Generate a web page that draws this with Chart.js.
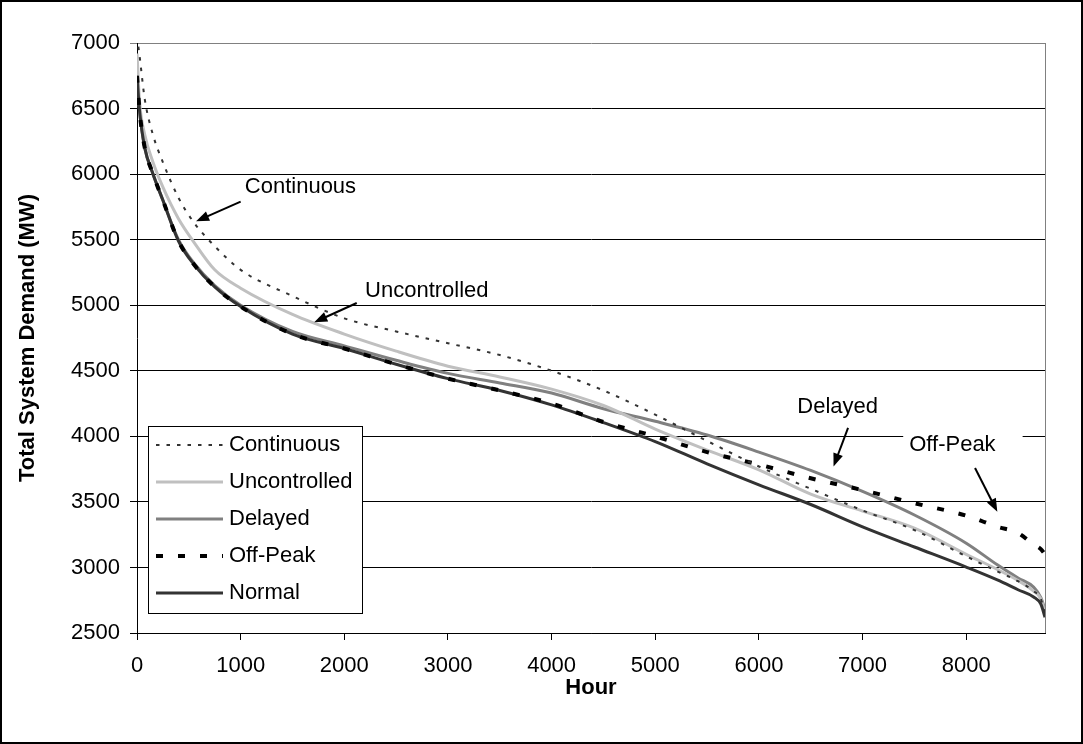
<!DOCTYPE html>
<html>
<head>
<meta charset="utf-8">
<script src="https://cdn.jsdelivr.net/npm/chart.js@4.4.1/dist/chart.umd.min.js"></script>
<style>
  html, body { margin: 0; padding: 0; background: #fff; }
  canvas { display: block; }
</style>
</head>
<body>
<canvas id="demandChart" width="1083" height="744"></canvas>
<script>
// hour of year (sorted load duration), MW values
const hours        = [0, 25, 75, 150, 250, 400, 550, 750, 1000, 1500, 2000, 2500, 3000, 3500, 4000, 4500, 5000, 5500, 6000, 6500, 7000, 7500, 8000, 8300, 8500, 8650, 8720, 8760];
const continuous   = [7050, 6900, 6570, 6310, 6090, 5820, 5630, 5450, 5270, 5070, 4900, 4800, 4710, 4620, 4500, 4350, 4165, 3965, 3770, 3600, 3435, 3285, 3085, 2970, 2895, 2820, 2760, 2650];
const uncontrolled = [6920, 6550, 6300, 6100, 5900, 5660, 5480, 5270, 5130, 4930, 4780, 4650, 4535, 4453, 4360, 4235, 4055, 3895, 3745, 3560, 3430, 3300, 3100, 2985, 2900, 2820, 2760, 2650];
const delayed      = [6750, 6480, 6200, 6010, 5800, 5500, 5320, 5150, 5000, 4800, 4690, 4580, 4480, 4407, 4330, 4210, 4115, 4010, 3880, 3740, 3580, 3400, 3185, 3020, 2920, 2850, 2770, 2680];
const offPeak      = [6750, 6480, 6200, 6010, 5800, 5490, 5310, 5140, 4990, 4780, 4670, 4550, 4440, 4350, 4250, 4110, 4000, 3880, 3785, 3680, 3590, 3490, 3395, 3310, 3263, 3175, 3140, 3100];
const normal       = [6750, 6480, 6200, 6010, 5800, 5490, 5310, 5140, 4990, 4780, 4670, 4550, 4440, 4350, 4240, 4105, 3960, 3790, 3630, 3480, 3310, 3156, 3003, 2905, 2830, 2775, 2720, 2620];

const xTicks = [0, 1000, 2000, 3000, 4000, 5000, 6000, 7000, 8000];

const FONT = "'Liberation Sans', Arial, sans-serif";

function pts(vals) {
  return hours.map((h, i) => ({ x: h, y: vals[i] }));
}

// call-out labels with arrows, placed in data units
const callouts = [
  { text: "Continuous",   at: [1040, 5900], from: [1000, 5790], to: [570, 5640] },
  { text: "Uncontrolled", at: [2200, 5108], from: [2120, 5017], to: [1710, 4870] },
  { text: "Delayed",      at: [6370, 4224], from: [6860, 4064], to: [6720, 3770] },
  { text: "Off-Peak",     at: [7450, 3934], from: [8085, 3758], to: [8300, 3425], box: true }
];

function arrow(ctx, x1, y1, x2, y2) {
  const a = Math.atan2(y2 - y1, x2 - x1);
  const len = 13, half = 5;
  ctx.beginPath();
  ctx.moveTo(x1, y1);
  ctx.lineTo(x2 - Math.cos(a) * len * 0.8, y2 - Math.sin(a) * len * 0.8);
  ctx.stroke();
  ctx.beginPath();
  ctx.moveTo(x2, y2);
  ctx.lineTo(x2 - Math.cos(a) * len + Math.sin(a) * half, y2 - Math.sin(a) * len - Math.cos(a) * half);
  ctx.lineTo(x2 - Math.cos(a) * len - Math.sin(a) * half, y2 - Math.sin(a) * len + Math.cos(a) * half);
  ctx.closePath();
  ctx.fill();
}

const extras = {
  id: "extras",
  afterDraw(chart) {
    const { ctx, chartArea: ca, scales: { x, y } } = chart;
    ctx.save();

    // gray right edge of plot
    ctx.strokeStyle = "#808080";
    ctx.lineWidth = 1;
    ctx.beginPath();
    ctx.moveTo(Math.round(ca.right) + 0.5, ca.top);
    ctx.lineTo(Math.round(ca.right) + 0.5, ca.bottom);
    ctx.stroke();

    // call-outs
    ctx.font = "22px " + FONT;
    ctx.textBaseline = "middle";
    ctx.textAlign = "left";
    callouts.forEach(c => {
      const tx = x.getPixelForValue(c.at[0]), ty = y.getPixelForValue(c.at[1]);
      if (c.box) {
        const w = ctx.measureText(c.text).width;
        ctx.fillStyle = "#fff";
        ctx.fillRect(tx - 6, ty - 16, w + 33, 32);
      }
      ctx.fillStyle = "#000";
      ctx.fillText(c.text, tx, ty);
      ctx.strokeStyle = "#000";
      ctx.lineWidth = 2;
      arrow(ctx, x.getPixelForValue(c.from[0]), y.getPixelForValue(c.from[1]),
                 x.getPixelForValue(c.to[0]), y.getPixelForValue(c.to[1]));
    });

    // legend box inside plot
    const lx = ca.left + 11, ly = ca.top + 383, lw = 214, lh = 187;
    ctx.fillStyle = "#fff";
    ctx.fillRect(lx, ly, lw, lh);
    ctx.strokeStyle = "#000";
    ctx.lineWidth = 1;
    ctx.strokeRect(lx + 0.5, ly + 0.5, lw, lh);
    chart.data.datasets.forEach((ds, i) => {
      const ry = ly + 19 + i * 37;
      ctx.save();
      ctx.strokeStyle = ds.borderColor;
      ctx.lineWidth = ds.borderWidth;
      ctx.setLineDash(ds.borderDash || []);
      ctx.beginPath();
      ctx.moveTo(lx + 8, ry);
      ctx.lineTo(lx + 75, ry);
      ctx.stroke();
      ctx.restore();
      ctx.fillStyle = "#000";
      ctx.font = "22px " + FONT;
      ctx.fillText(ds.label, lx + 81, ry);
    });

    // outer frame
    ctx.strokeStyle = "#000";
    ctx.lineWidth = 2;
    ctx.setLineDash([]);
    ctx.strokeRect(1, 1, chart.width - 2, chart.height - 2);
    ctx.restore();
  }
};

new Chart(document.getElementById("demandChart"), {
  type: "line",
  data: {
    datasets: [
      { label: "Continuous", data: pts(continuous), borderColor: "#333333", borderWidth: 2, borderDash: [3.5, 7], order: 0 },
      { label: "Uncontrolled", data: pts(uncontrolled), borderColor: "#c0c0c0", borderWidth: 3, order: 3 },
      { label: "Delayed", data: pts(delayed), borderColor: "#808080", borderWidth: 3, order: 4 },
      { label: "Off-Peak", data: pts(offPeak), borderColor: "#000000", borderWidth: 4, borderDash: [7, 15], order: 1 },
      { label: "Normal", data: pts(normal), borderColor: "#333333", borderWidth: 3, order: 2 }
    ]
  },
  options: {
    responsive: false,
    animation: false,
    events: [],
    layout: { padding: { left: 0, top: 43, right: 38, bottom: 0 } },
    elements: {
      point: { radius: 0 },
      line: { cubicInterpolationMode: "monotone", fill: false }
    },
    plugins: {
      legend: { display: false },
      tooltip: { enabled: false }
    },
    scales: {
      x: {
        type: "linear",
        min: 0,
        max: 8760,
        afterBuildTicks: s => { s.ticks = xTicks.map(v => ({ value: v })); },
        afterFit: s => { s.height = 111; },
        grid: { drawOnChartArea: false, color: "#000", tickLength: 7 },
        border: { color: "#000", width: 1 },
        ticks: {
          color: "#000", padding: 13, maxRotation: 0,
          font: { family: FONT, size: 22 },
          callback: v => String(v)
        },
        title: {
          display: true,
          text: "Hour",
          color: "#000",
          padding: { top: 0, bottom: 43 },
          font: { family: FONT, size: 22, weight: "bold" }
        }
      },
      y: {
        min: 2500,
        max: 7000,
        afterFit: s => { s.width = 137; },
        ticks: {
          stepSize: 500, color: "#000", padding: 10,
          font: { family: FONT, size: 22 },
          callback: v => String(v)
        },
        grid: {
          color: c => (c.tick && c.tick.value === 7000 ? "#808080" : "#000"),
          lineWidth: 1,
          tickLength: 7
        },
        border: { color: "#000", width: 1 },
        title: {
          display: true,
          text: "Total System Demand (MW)",
          color: "#000",
          padding: { top: 15, bottom: 0 },
          font: { family: FONT, size: 22, weight: "bold" }
        }
      }
    }
  },
  plugins: [extras]
});
</script>
</body>
</html>
